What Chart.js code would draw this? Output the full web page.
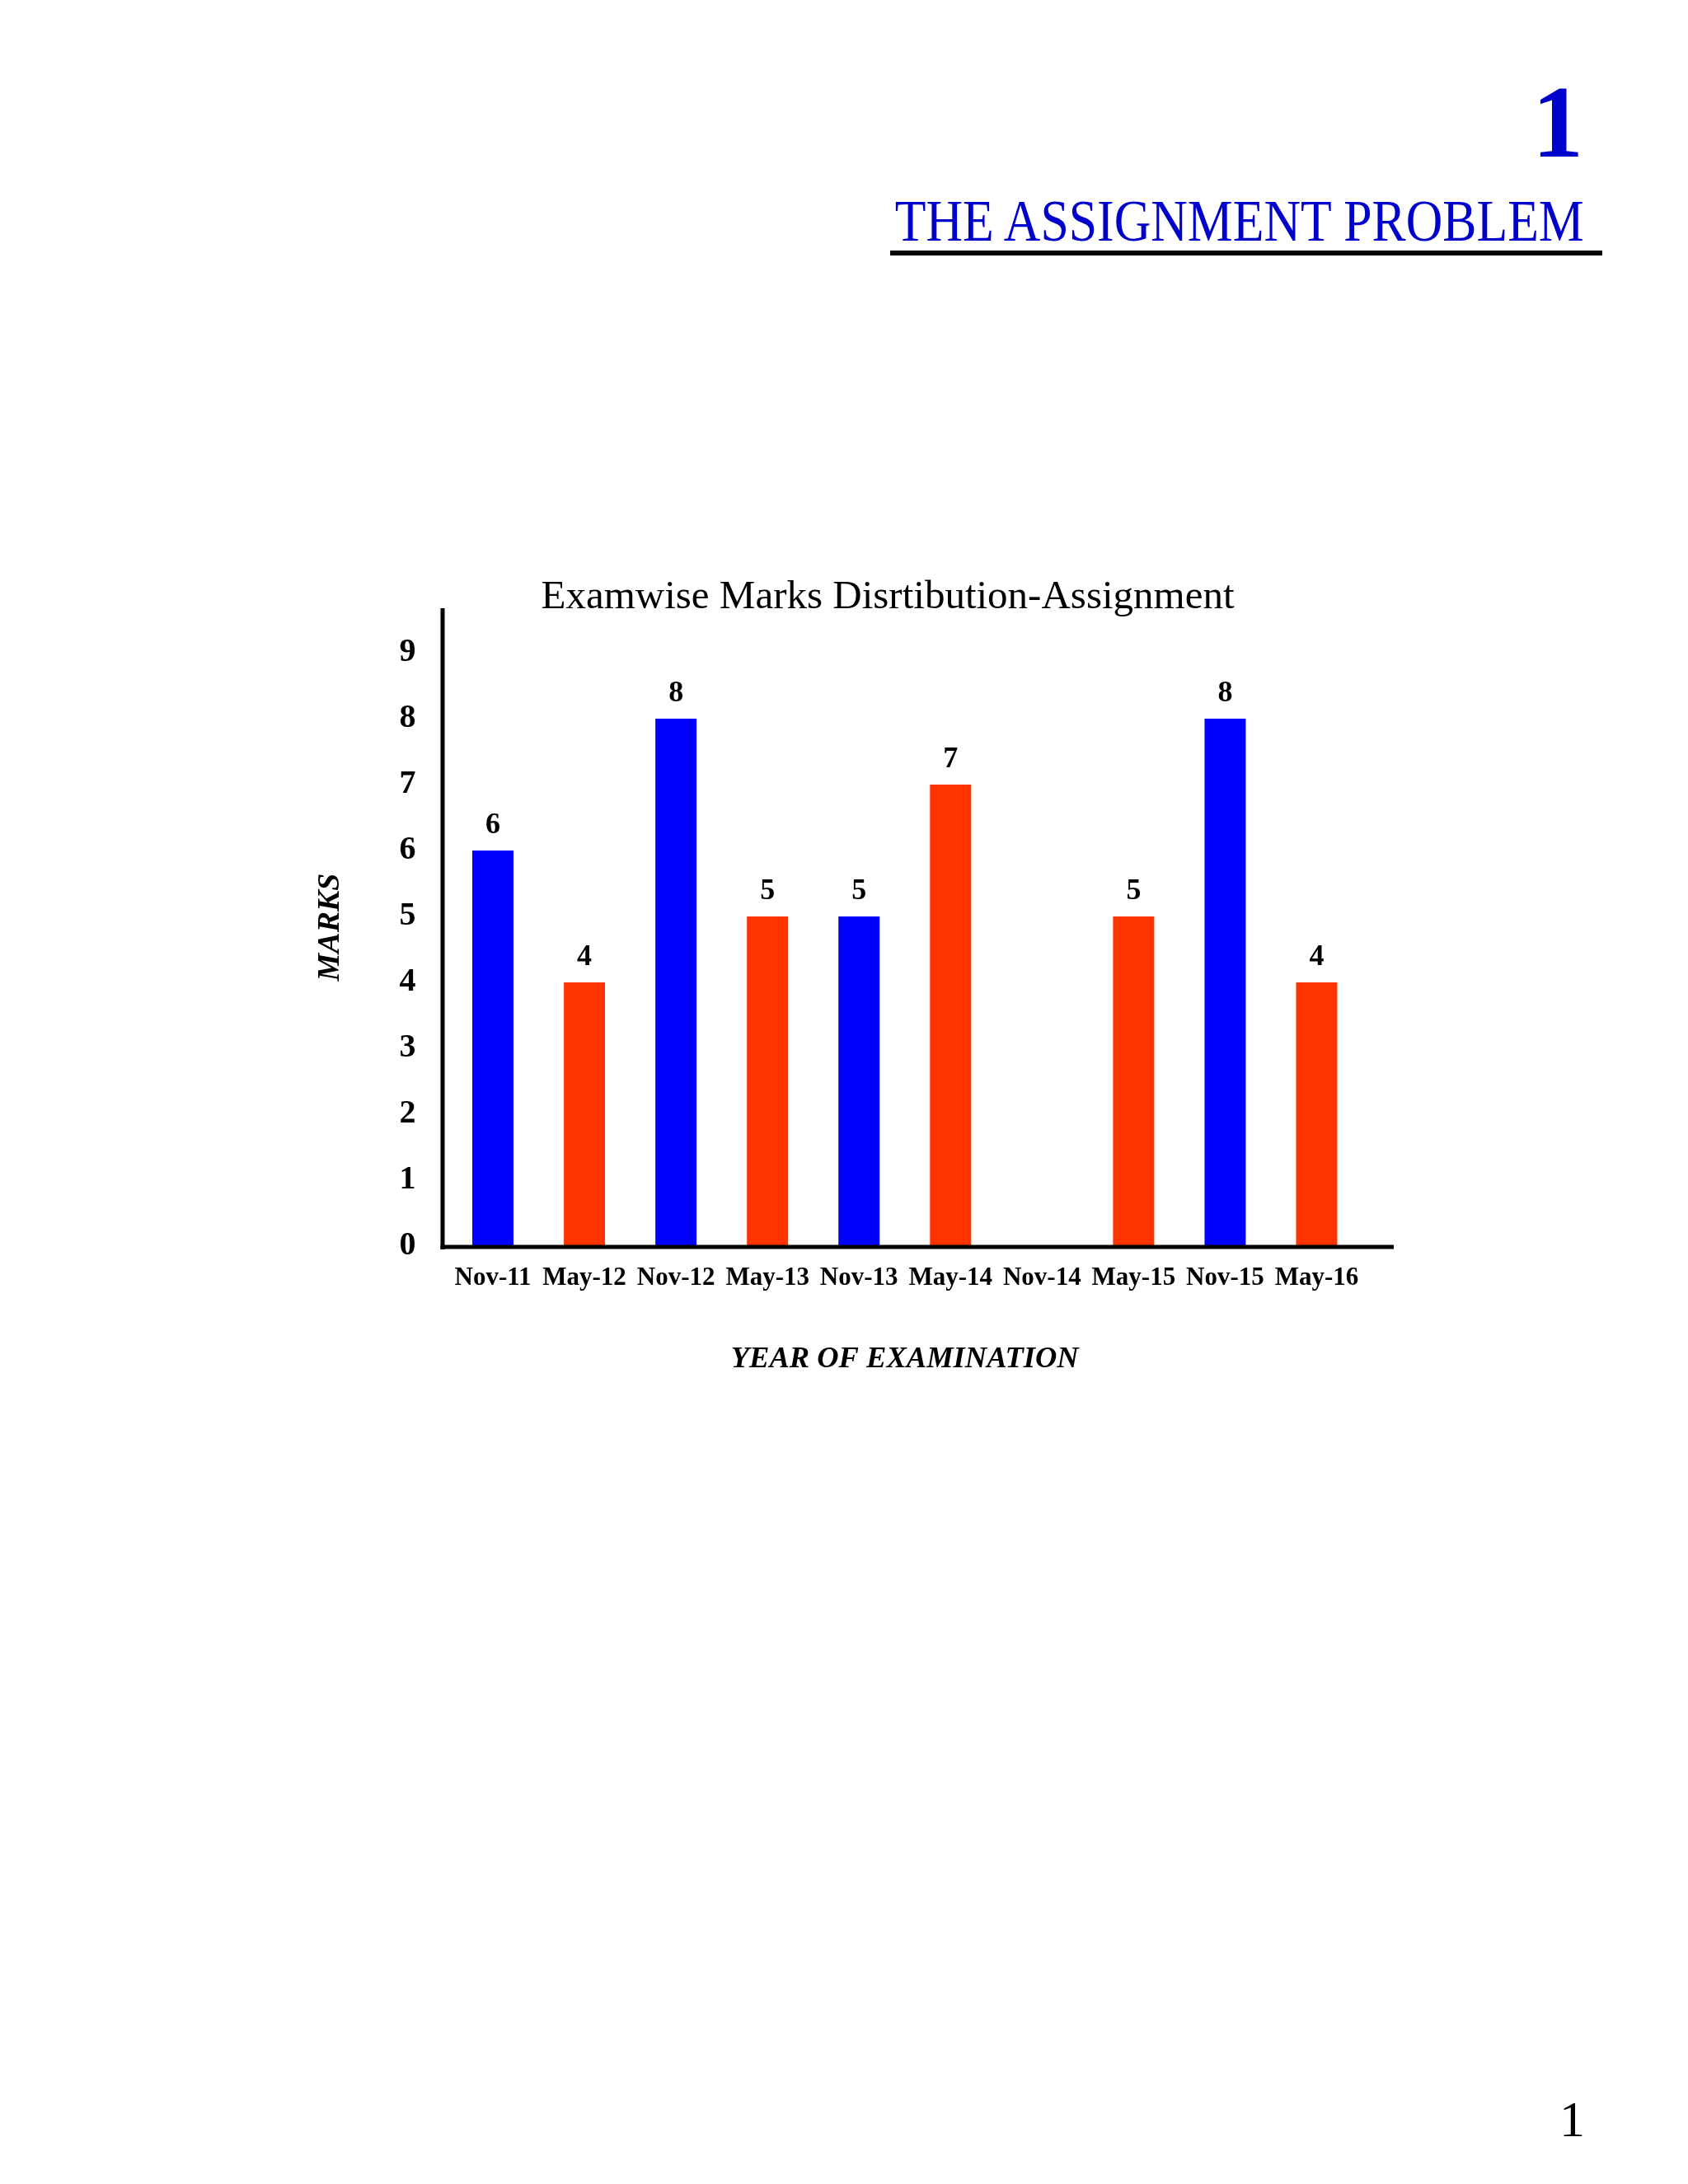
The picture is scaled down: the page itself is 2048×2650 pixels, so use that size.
<!DOCTYPE html>
<html>
<head>
<meta charset="utf-8">
<script src="https://cdn.jsdelivr.net/npm/chart.js@4/dist/chart.umd.min.js"></script>
<style>
  html, body { margin: 0; padding: 0; background: #ffffff; }
  #page { position: relative; width: 2048px; height: 2650px; overflow: hidden; background: #ffffff; }
  #chartCanvas { position: absolute; left: 0; top: 0; }
  .txt { position: absolute; white-space: nowrap; line-height: 1; font-family: "Liberation Serif", "DejaVu Serif", serif; }
  #chapNum { right: 127px; top: 87px; font-size: 124px; font-weight: bold; color: #0000CC; }
  #chapTitle { right: 126px; top: 232px; font-size: 72px; color: #0000CC; transform-origin: right center; }
  #rule { position: absolute; left: 1080px; top: 304px; width: 864px; height: 6px; background: #000; }
  #pageNum { right: 125px; top: 2540px; font-size: 62px; color: #000; }
</style>
</head>
<body>
<div id="page">
  <canvas id="chartCanvas" width="2048" height="2650" style="width:2048px;height:2650px;"></canvas>
  <div class="txt" id="chapNum">1</div>
  <div class="txt" id="chapTitle">THE ASSIGNMENT PROBLEM</div>
  <div id="rule"></div>
  <div class="txt" id="pageNum">1</div>
</div>
<script>
// ---- data ----
const categories = ['Nov-11', 'May-12', 'Nov-12', 'May-13', 'Nov-13', 'May-14', 'Nov-14', 'May-15', 'Nov-15', 'May-16'];
const marks = [6, 4, 8, 5, 5, 7, null, 5, 8, 4];
const barColors = ['#0000FF', '#FF3300', '#0000FF', '#FF3300', '#0000FF', '#FF3300', '#0000FF', '#FF3300', '#0000FF', '#FF3300'];
const yTicks = [0, 1, 2, 3, 4, 5, 6, 7, 8, 9];
const yMax = 9.675;
const chartTitle = 'Examwise Marks Disrtibution-Assignment';
const xTitle = 'YEAR OF EXAMINATION';
const yTitle = 'MARKS';

// fit chapter title width
(function () {
  const el = document.getElementById('chapTitle');
  const w = el.getBoundingClientRect().width;
  const target = 836;
  el.style.transform = 'scaleX(' + (target / w) + ')';
})();

const FONT = '"Liberation Serif", "DejaVu Serif", serif';

const axisLines = {
  id: 'axisLines',
  afterDatasetsDraw(chart) {
    const ca = chart.chartArea;
    const ctx = chart.ctx;
    ctx.save();
    ctx.strokeStyle = '#000';
    ctx.lineCap = 'butt';
    ctx.lineWidth = 5;
    ctx.beginPath();
    ctx.moveTo(ca.left - 5.5, ca.top);
    ctx.lineTo(ca.left - 5.5, ca.bottom + 4);
    ctx.stroke();
    ctx.lineWidth = 5;
    ctx.beginPath();
    ctx.moveTo(ca.left - 8, ca.bottom + 1);
    ctx.lineTo(ca.right + 38, ca.bottom + 1);
    ctx.stroke();
    ctx.restore();
  }
};

const valueLabels = {
  id: 'valueLabels',
  afterDatasetsDraw(chart) {
    const ctx = chart.ctx;
    const meta = chart.getDatasetMeta(0);
    const data = chart.data.datasets[0].data;
    ctx.save();
    ctx.fillStyle = '#000';
    ctx.font = 'bold 36px ' + FONT;
    ctx.textAlign = 'center';
    ctx.textBaseline = 'middle';
    meta.data.forEach((el, i) => {
      if (data[i] === null || data[i] === undefined) return;
      ctx.fillText(String(data[i]), el.x, el.y - 30);
    });
    ctx.restore();
  }
};

new Chart(document.getElementById('chartCanvas'), {
  type: 'bar',
  data: {
    labels: categories,
    datasets: [{
      data: marks,
      backgroundColor: barColors,
      borderWidth: 0,
      barPercentage: 0.45,
      categoryPercentage: 1.0
    }]
  },
  options: {
    responsive: false,
    animation: false,
    layout: { padding: { left: 382, right: 276, top: 600, bottom: 982.5 } },
    plugins: {
      legend: { display: false },
      tooltip: { enabled: false },
      title: {
        display: true,
        text: chartTitle,
        color: '#000',
        font: { family: FONT, size: 49, weight: 'normal', lineHeight: 0.5 },
        padding: { top: 112.75, bottom: 0.75 }
      }
    },
    scales: {
      x: {
        type: 'category',
        offset: true,
        grid: { display: false, drawTicks: false },
        border: { display: false },
        ticks: {
          color: '#000',
          font: { family: FONT, size: 31, weight: 'bold' },
          padding: 20,
          maxRotation: 0,
          minRotation: 0,
          autoSkip: false
        },
        title: {
          display: true,
          text: xTitle,
          color: '#000',
          font: { family: FONT, size: 36.5, weight: 'bold', style: 'italic', lineHeight: 1 },
          padding: 0
        },
        afterFit(s) { s.height = 155.5; }
      },
      y: {
        type: 'linear',
        position: 'left',
        min: 0,
        max: yMax,
        grid: { display: false, drawTicks: false },
        border: { display: false },
        afterBuildTicks(s) { s.ticks = yTicks.map(v => ({ value: v })); },
        ticks: {
          color: '#000',
          font: { family: FONT, size: 40, weight: 'bold' },
          padding: 38
        },
        title: {
          display: true,
          text: yTitle,
          color: '#000',
          font: { family: FONT, size: 38, weight: 'bold', style: 'italic', lineHeight: 1 },
          padding: 0
        },
        afterFit(s) { s.width = 160.5; }
      },
      y2: {
        type: 'linear',
        position: 'right',
        display: true,
        grid: { display: false, drawTicks: false },
        border: { display: false },
        ticks: { display: false },
        afterFit(s) { s.width = 119; }
      }
    }
  },
  plugins: [axisLines, valueLabels]
});
</script>
</body>
</html>
